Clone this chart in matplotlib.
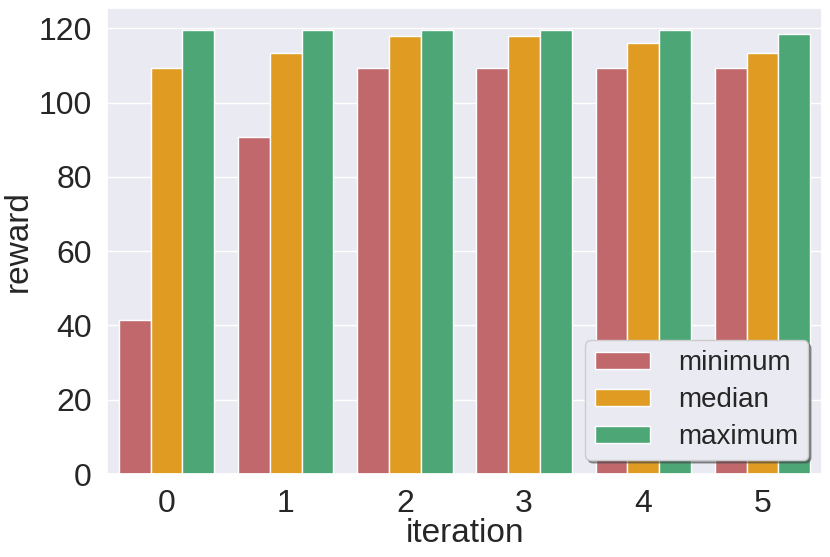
import matplotlib
matplotlib.use("Agg")
import matplotlib.pyplot as plt
import seaborn as sns
import numpy as np

iterations = [0, 1, 2, 3, 4, 5]
series = ["minimum", "median", "maximum"]
minimum = [41.5, 90.7, 109.3, 109.3, 109.3, 109.3]
median = [109.3, 113.5, 117.9, 117.9, 116.0, 113.5]
maximum = [119.5, 119.5, 119.5, 119.5, 119.5, 118.5]
colors = ["#C0686B", "#E09C22", "#4CA676"]

sns.set_theme(style="darkgrid")
plt.rcParams['font.family'] = ['Liberation Sans', 'DejaVu Sans']

fig = plt.figure(figsize=(8.3, 5.57), dpi=100)
ax = fig.add_axes([107/830, 1-474/557, (822-107)/830, (474-8)/557])

x = np.arange(len(iterations))
w = 0.8/3
for i, (name, vals) in enumerate(zip(series, [minimum, median, maximum])):
    ax.bar(x + (i-1)*w, vals, width=w, color=colors[i], edgecolor='white', linewidth=1, label=name)

ax.grid(False, axis='x')
ax.set_xticks(x)
ax.set_xticklabels([str(v) for v in iterations])
ax.set_xlim(-0.5, len(iterations)-0.5)
ax.set_ylim(0, 125.5)
ax.set_yticks([0, 20, 40, 60, 80, 100, 120])
ax.tick_params(axis='both', labelsize=23, colors='#262626', pad=5)
ax.set_xlabel("iteration", fontsize=24, color='#262626', labelpad=-1)
ax.set_ylabel("reward", fontsize=24, color='#262626', labelpad=3)
ax.legend(loc='lower right', fontsize=20, frameon=True, shadow=True, fancybox=True,
          facecolor='#EAEAF2', edgecolor='#cccccc', handlelength=2.0, handleheight=0.6,
          borderpad=0.35, labelspacing=0.4, handletextpad=1.0, framealpha=1)
fig.savefig("out.png", dpi=100)
